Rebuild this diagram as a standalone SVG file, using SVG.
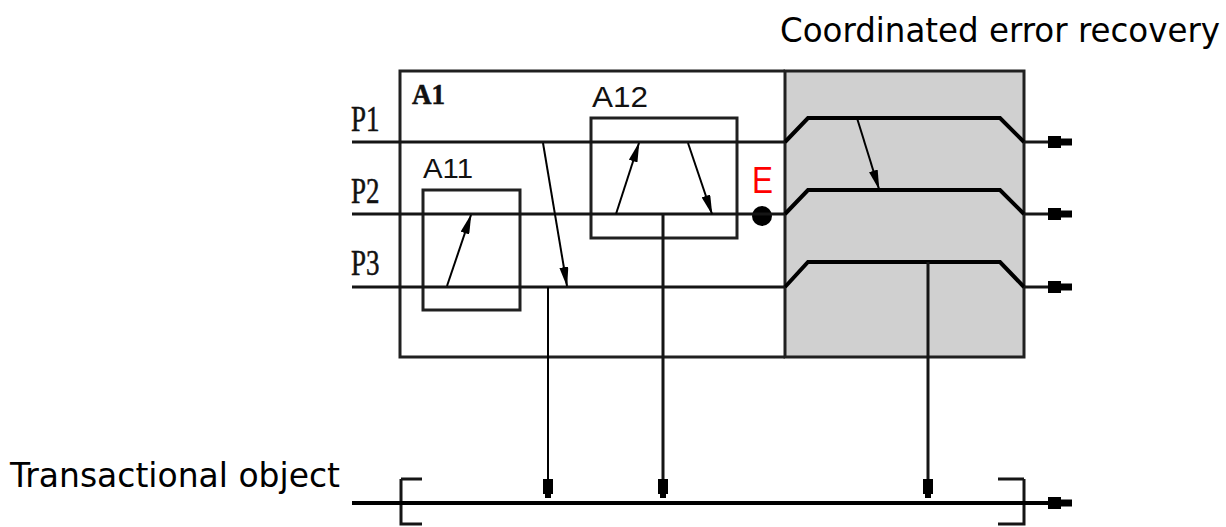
<svg xmlns="http://www.w3.org/2000/svg" width="1226" height="527" viewBox="0 0 1226 527">
<style>
.ln{stroke:#151515;stroke-width:3;fill:none}
.thin{stroke:#000;stroke-width:2;fill:none}
.box{stroke:#202020;stroke-width:3;fill:none}
.lane{stroke:#000;stroke-width:4;fill:none;stroke-linejoin:miter}
.ser{font-family:"Liberation Serif",serif;fill:#111}
.sans{font-family:"Liberation Sans",sans-serif;fill:#111}
.big{font-family:"DejaVu Sans","Liberation Sans",sans-serif;font-size:33px;fill:#000}
.tab{fill:#000}
</style>
<defs>
<marker id="ah" viewBox="0 0 20 9" refX="19" refY="4.5" markerWidth="20" markerHeight="9" markerUnits="userSpaceOnUse" orient="auto">
<path d="M0,0 L20,4.5 L0,9 z" fill="#000"/>
</marker>
<g id="tabR"><rect x="0" y="-6" width="13" height="12"/><rect x="12" y="-3.5" width="12" height="7"/></g>
<g id="tabD"><rect x="-5" y="0" width="10" height="15"/><rect x="-3" y="14" width="6" height="5"/></g>
</defs>

<text class="big" x="780" y="42" textLength="440" lengthAdjust="spacingAndGlyphs">Coordinated error recovery</text>
<text class="big" x="10" y="487" textLength="330" lengthAdjust="spacingAndGlyphs">Transactional object</text>

<g id="recovery">
<rect x="785" y="71" width="239" height="286" fill="#d0d0d0" stroke="#202020" stroke-width="3"/>
<polyline class="lane" points="785,142 808,118 1000,118 1024,142"/>
<polyline class="lane" points="785,214 808,190 1000,190 1024,214"/>
<polyline class="lane" points="785,287 808,262 1000,262 1024,287"/>
</g>

<g id="A1">
<path class="box" d="M785,71 L400,71 L400,357 L785,357"/>
<text class="ser" x="412" y="104" font-size="30" font-weight="bold" stroke="#111" stroke-width="0.6" textLength="33" lengthAdjust="spacingAndGlyphs">A1</text>
</g>

<g id="labels">
<text class="ser" font-size="27" transform="translate(351,131) scale(1,1.3)" stroke="#111" stroke-width="0.4">P1</text>
<text class="ser" font-size="27" transform="translate(351,203) scale(1,1.3)" stroke="#111" stroke-width="0.4">P2</text>
<text class="ser" font-size="27" transform="translate(351,275) scale(1,1.3)" stroke="#111" stroke-width="0.4">P3</text>
</g>

<g id="A11">
<rect class="box" x="423" y="190" width="97" height="120"/>
<text class="sans" x="423" y="178" font-size="28" textLength="50" lengthAdjust="spacingAndGlyphs">A11</text>
</g>

<g id="A12">
<rect class="box" x="591" y="118" width="146" height="120"/>
<text class="sans" x="592" y="107" font-size="29" textLength="56" lengthAdjust="spacingAndGlyphs">A12</text>
</g>

<g id="E">
<circle cx="762" cy="216" r="10" fill="#000"/>
<text x="752" y="193" font-family="Liberation Sans,sans-serif" font-size="36" fill="#ff0000" textLength="21" lengthAdjust="spacingAndGlyphs">E</text>
</g>

<g id="transactional">
<path class="ln" d="M401,479 H422 M401,479 V524 H422 M1024,479 H998 M1024,479 V524 H998"/>
</g>

<g id="connectors">
<line class="ln" x1="352" y1="142" x2="785" y2="142"/>
<line class="ln" x1="352" y1="214" x2="785" y2="214"/>
<line class="ln" x1="352" y1="287" x2="785" y2="287"/>
<line class="ln" x1="1024" y1="142" x2="1050" y2="142"/>
<line class="ln" x1="1024" y1="214" x2="1050" y2="214"/>
<line class="ln" x1="1024" y1="287" x2="1050" y2="287"/>
<use href="#tabR" class="tab" x="1048" y="142"/>
<use href="#tabR" class="tab" x="1048" y="214"/>
<use href="#tabR" class="tab" x="1048" y="287"/>
<line class="lane" x1="352" y1="503" x2="1050" y2="503"/>
<use href="#tabR" class="tab" x="1048" y="503"/>

<line class="thin" x1="447" y1="286" x2="471" y2="215" marker-end="url(#ah)"/>
<line class="thin" x1="543" y1="143" x2="567" y2="286" marker-end="url(#ah)"/>
<line class="thin" x1="616" y1="214" x2="639" y2="143" marker-end="url(#ah)"/>
<line class="thin" x1="688" y1="143" x2="712" y2="214" marker-end="url(#ah)"/>
<line class="thin" x1="857" y1="118" x2="879" y2="189" marker-end="url(#ah)"/>

<line class="thin" x1="548" y1="287" x2="548" y2="480"/>
<line class="ln" x1="663" y1="214" x2="663" y2="480"/>
<line class="ln" x1="928" y1="262" x2="928" y2="480"/>
<use href="#tabD" class="tab" x="548" y="479"/>
<use href="#tabD" class="tab" x="663" y="479"/>
<use href="#tabD" class="tab" x="928" y="479"/>
</g>
</svg>
